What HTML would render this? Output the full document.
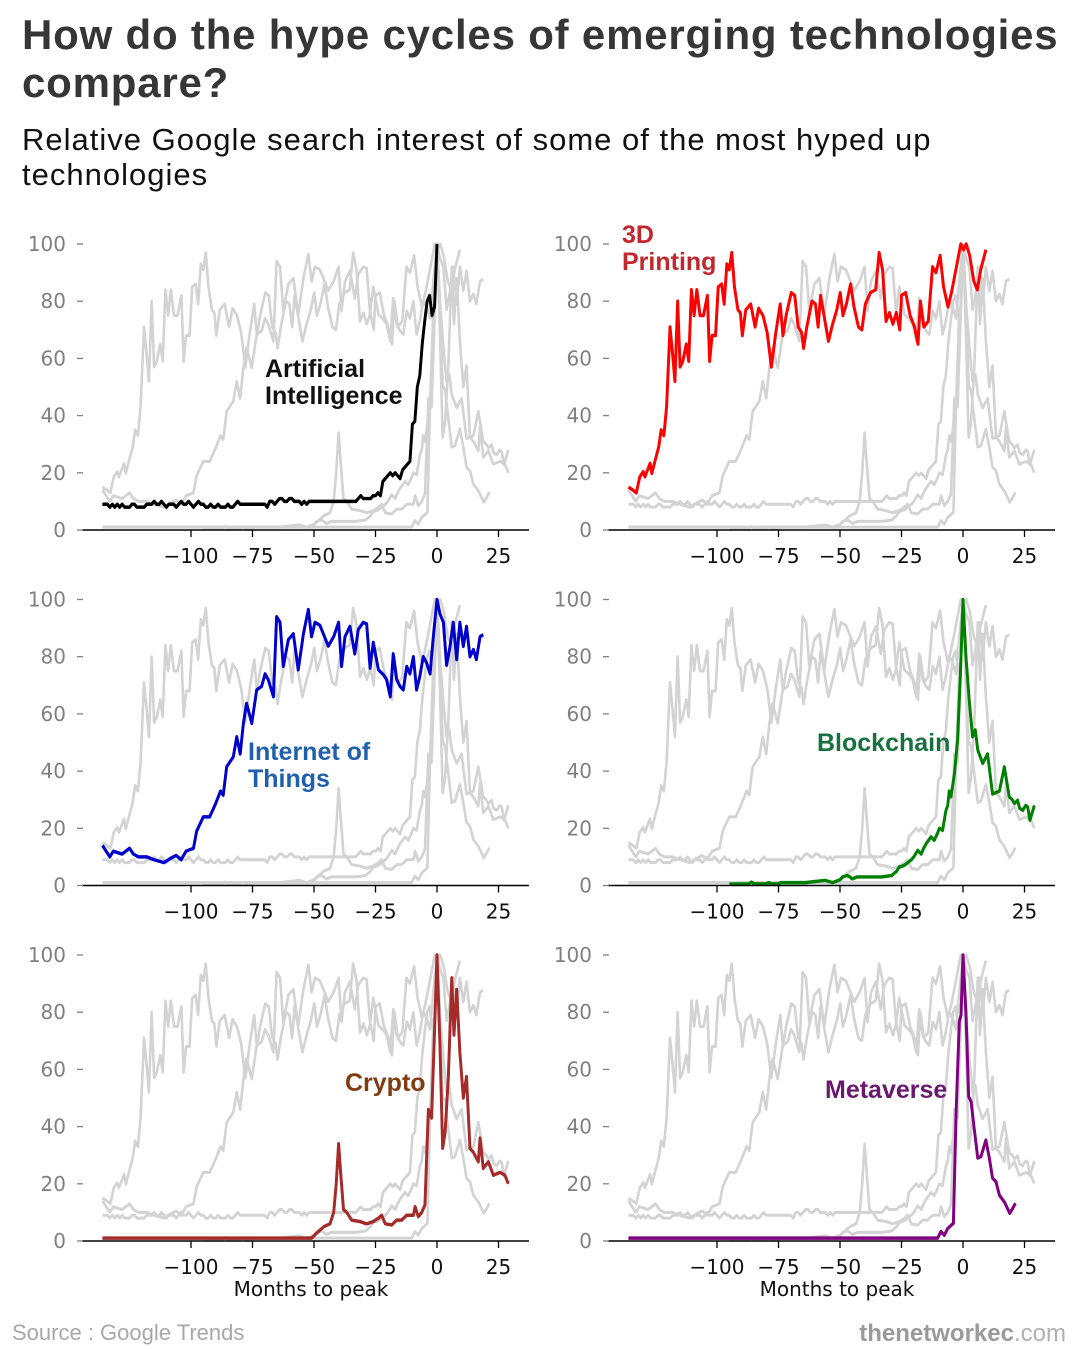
<!DOCTYPE html>
<html>
<head>
<meta charset="utf-8">
<style>
  html, body { margin:0; padding:0; background:#fff; }
  svg { display:block; }
  .title { font-family:"Liberation Sans", sans-serif; font-weight:bold; font-size:42px; fill:#363636; letter-spacing:0.8px; }
  .sub { font-family:"Liberation Sans", sans-serif; font-size:31px; fill:#111; letter-spacing:1px; }
  .yl { font-family:"DejaVu Sans", sans-serif; font-size:20px; fill:#808080; text-anchor:end; }
  .xl { font-family:"DejaVu Sans", sans-serif; font-size:20px; fill:#111; text-anchor:middle; }
  .lab { font-family:"Liberation Sans", sans-serif; font-weight:bold; font-size:25px; }
  .sp { stroke:#000; stroke-width:1.5; }
  .xt { stroke:#000; stroke-width:1.3; }
  .yt { stroke:#808080; stroke-width:1.3; }
</style>
</head>
<body>
<svg width="1080" height="1350" viewBox="0 0 1080 1350" xmlns="http://www.w3.org/2000/svg">
<rect width="1080" height="1350" fill="#fff"/>
<defs>
<polyline id="ai" fill="none" stroke-linejoin="round" points="-136,9 -135,9 -134,9 -133,8 -132,9 -131,8 -130,9 -129,8 -128,9 -127,8 -126,8 -125,8 -124,9 -123,9 -122,8 -121,8 -120,8 -119,8 -118,9 -117,9 -116,9 -115,10 -114,9 -113,9 -112,10 -111,9 -110,8 -109,9 -108,9 -107,9 -106,8 -105,9 -104,10 -103,9 -102,9 -101,10 -100,9 -99,8 -98,9 -97,10 -96,9 -95,9 -94,8 -93,8 -92,9 -91,8 -90,8 -89,9 -88,8 -87,8 -86,8 -85,9 -84,8 -83,8 -82,9 -81,10 -80,9 -79,9 -78,9 -77,9 -76,9 -75,9 -74,9 -73,9 -72,9 -71,9 -70,9 -69,8 -68,10 -67,10 -66,9 -65,10 -64,11 -63,11 -62,10 -61,10 -60,11 -59,11 -58,10 -57,10 -56,10 -55,9 -54,10 -53,9 -52,10 -51,10 -50,10 -33,10 -32,11 -31,12 -30,11 -29,11 -28,11 -27,11 -26,12 -25,12 -24,13 -23,12 -22,17 -21,18 -20,19 -19,20 -18,19 -17,20 -16,19 -15,18 -14,21 -13,22 -12,23 -11,24 -10,37 -9,38 -8,50 -7,54 -6,65 -5,73 -4,80 -3,82 -2,75 -1,78 0,100"/>
<polyline id="dp" fill="none" stroke-linejoin="round" points="-136,15 -134.2,14 -132.8,13 -131.4,18.6 -130,20.4 -129.3,18.6 -127.2,23.3 -126.5,19.8 -125.1,24.5 -123.7,29 -122.7,35 -121.6,33 -120.5,43 -119.1,71 -118.1,62 -117.1,52 -116,80 -115,57 -113.9,59 -112.5,65 -111.5,59 -110.4,84 -109.3,75 -108.2,84 -106.9,75 -105.5,75 -103.9,82 -103,59 -102,68 -100.6,68 -99.5,85 -98.1,86 -97.1,79 -96,93 -95,91 -94,97 -92.9,85 -91.5,77 -90.5,76 -89.7,68 -88.3,77 -86.3,79 -84.5,71 -83.1,77.5 -81.3,75 -79.6,69 -77.9,57 -76.1,69 -74.3,79 -73.2,68 -71.9,75 -69.8,83 -68.4,82 -67,71 -65.6,69 -64.8,63.5 -63.5,71 -61.4,80 -60,79 -58.9,71 -57.9,82 -56.5,75 -54.7,66 -53,72 -51.3,77 -49.9,83 -48.8,75 -47.4,79 -45.7,86 -44.3,78 -42.5,71 -41.1,70 -39.7,79 -37.6,83 -35.5,84 -34.1,97 -32.7,91 -31.3,73 -29.9,76 -28.5,72 -27.1,76 -25.7,70 -25,82 -23.3,83 -21.5,75 -19.7,71 -18.3,65 -17.3,80 -15.9,71 -14.1,73 -12.4,92 -11,90 -9.3,96 -7.9,85 -6.1,78 -4.7,83 -2.9,91 -0.9,100 0.2,98 1.3,100 2.7,96 4.4,87 5.8,84 7.2,91 9.3,98"/>
<polyline id="iot" fill="none" stroke-linejoin="round" points="-136,14 -133,10 -131.6,12 -128,11 -125,13 -123.4,11 -121.4,10 -118,10 -115,9 -111,8 -108.5,9.4 -106,10.5 -104,9 -102,12 -99,13 -97.7,19 -95,24 -92.4,24 -90,28.6 -88,33 -86.9,31.6 -85.5,41.5 -82.8,45 -81.4,52 -80,46 -78.7,56.7 -77.4,63.7 -75.3,56.7 -73.3,68.4 -71.3,69.6 -69.9,74 -68.6,72 -66.5,66 -65.2,94 -63.8,92 -62.5,76.6 -60.4,86 -58.4,88 -56.4,75.4 -54.3,88 -52.3,96.5 -51,87 -49.6,92 -47.6,91 -46.2,88 -44.2,83.7 -42,87 -40,92 -38.8,76.6 -37.4,87 -35.4,90.6 -33.4,81 -32,89.5 -30,92 -28.6,91.5 -27.2,76 -25.9,85 -23.8,75.4 -21.8,73.7 -20.5,72 -19,66 -17.8,81 -16.4,72 -15,69.6 -13.7,68.4 -12.3,76.6 -11,74 -9.6,80 -8.3,68.4 -7,73 -5.6,80 -4.2,77.8 -2.8,74 -1.5,87 0,100 1.2,95 2.6,92 3.9,77 5.3,83.6 6.6,92 8,79 9.3,92 10.7,83.6 12,90.6 13.4,80 14.8,82.5 16,79 17.5,87 18.8,87.7"/>
<polyline id="bc" fill="none" stroke-linejoin="round" points="-95,0.5 -87,0.6 -86,1.2 -85,0.6 -80,0.6 -79,1 -78,0.6 -75,0.6 -74,1 -72,1 -64,1 -56,1.8 -53,1 -50,2 -49,3 -47,3.5 -46,3 -45,2.3 -43,3 -41,3 -37,3 -33,3 -29,3.5 -27,5 -26,6.4 -24,7 -23,7.6 -21,9 -20,10 -18.4,12.3 -17,11 -16,13 -15,14.6 -13,17 -11.7,15.8 -10.5,18 -9.6,20 -8.3,19.3 -7,26 -6.2,28 -5.6,33 -4.9,31 -3.5,39 -2.2,51 -1,75 0,100 1.2,80 2.6,64 3.9,52 5,54.4 6,47.4 8,42.7 10,46 12,32 14.8,33 16.8,41.5 18.8,31 20,30 20.9,28.7 22.2,29.8 23,27 24.3,26.3 25.5,28 26.3,27.5 27.2,22.8 29,28"/>
<polyline id="cr" fill="none" stroke-linejoin="round" points="-136,1 -51,1 -49,2.7 -46,5 -43.5,6 -42,10 -41,19.6 -40,34 -39,22 -38,11 -36.7,10 -34.7,7.3 -31.3,6.8 -28.6,6 -25.9,6.8 -23.8,8 -22.5,9 -21,6 -18.4,5.6 -16.4,7.3 -14.4,7.3 -12.3,9 -9.6,9 -8.9,12 -7.6,8.5 -6.2,10 -4.9,12.6 -3.5,46 -2.2,43 -1.1,71 0,100 1.2,68.5 2.3,32.4 3.3,38 4.6,57 6,92 6.9,72 8,88 9.3,66 10.7,50 12,57.5 13.4,32.4 14.8,31 16.8,27.7 17.5,36 18.8,25.4 20.9,27.7 22.9,23 25.6,24 27.6,23 29,20"/>
<polyline id="mv" fill="none" stroke-linejoin="round" points="-136,1 -10.3,1 -9,3.3 -7.6,2 -6.2,4.4 -3.9,6.2 -2.8,45 -1.5,76.7 -0.8,79 0,100 1.2,80 2.3,50.5 3.3,48.7 4.6,39 6,29 7.3,29.5 9.3,35.3 10.7,29 12,22 13.4,20.7 14.8,16 16.8,13.7 19,9.7 20.2,11.4 21.3,13.2"/>
</defs>

<!-- Title -->
<text class="title" x="22" y="49">How do the hype cycles of emerging technologies</text>
<text class="title" x="22" y="97">compare?</text>
<text class="sub" x="22" y="150">Relative Google search interest of some of the most hyped up</text>
<text class="sub" x="22" y="185">technologies</text>

<!-- Panel 1: AI -->
<g transform="translate(437,530) scale(2.46,-2.86)">
  <use href="#dp" stroke="#d3d3d3" stroke-width="1.05"/>
  <use href="#iot" stroke="#d3d3d3" stroke-width="1.05"/>
  <use href="#bc" stroke="#d3d3d3" stroke-width="1.05"/>
  <use href="#cr" stroke="#d3d3d3" stroke-width="1.05"/>
  <use href="#mv" stroke="#d3d3d3" stroke-width="1.05"/>
  <use href="#ai" stroke="#d3d3d3" stroke-width="1.05"/>
  <use href="#ai" stroke="#000000" stroke-width="1.2"/>
</g>
<g transform="translate(437,530)">
  <line class="sp" x1="-355" y1="0" x2="92" y2="0"/>
  <line class="xt" x1="-246" y1="0" x2="-246" y2="7"/><line class="xt" x1="-184.5" y1="0" x2="-184.5" y2="7"/><line class="xt" x1="-123" y1="0" x2="-123" y2="7"/><line class="xt" x1="-61.5" y1="0" x2="-61.5" y2="7"/><line class="xt" x1="0" y1="0" x2="0" y2="7"/><line class="xt" x1="61.5" y1="0" x2="61.5" y2="7"/>
  <text class="xl" x="-246" y="33">−100</text><text class="xl" x="-184.5" y="33">−75</text><text class="xl" x="-123" y="33">−50</text><text class="xl" x="-61.5" y="33">−25</text><text class="xl" x="0" y="33">0</text><text class="xl" x="61.5" y="33">25</text>
  <line class="yt" x1="-360" y1="0" x2="-354" y2="0"/><line class="yt" x1="-360" y1="-57.2" x2="-354" y2="-57.2"/><line class="yt" x1="-360" y1="-114.4" x2="-354" y2="-114.4"/><line class="yt" x1="-360" y1="-171.6" x2="-354" y2="-171.6"/><line class="yt" x1="-360" y1="-228.8" x2="-354" y2="-228.8"/><line class="yt" x1="-360" y1="-286" x2="-354" y2="-286"/>
  <text class="yl" x="-371" y="7">0</text><text class="yl" x="-371" y="-50.2">20</text><text class="yl" x="-371" y="-107.4">40</text><text class="yl" x="-371" y="-164.6">60</text><text class="yl" x="-371" y="-221.8">80</text><text class="yl" x="-371" y="-279">100</text>
</g>
<text class="lab" x="265" y="377" fill="#111">Artificial</text>
<text class="lab" x="265" y="404" fill="#111">Intelligence</text>

<!-- Panel 2: 3D Printing -->
<g transform="translate(963,530) scale(2.46,-2.86)">
  <use href="#ai" stroke="#d3d3d3" stroke-width="1.05"/>
  <use href="#iot" stroke="#d3d3d3" stroke-width="1.05"/>
  <use href="#bc" stroke="#d3d3d3" stroke-width="1.05"/>
  <use href="#cr" stroke="#d3d3d3" stroke-width="1.05"/>
  <use href="#mv" stroke="#d3d3d3" stroke-width="1.05"/>
  <use href="#dp" stroke="#d3d3d3" stroke-width="1.05"/>
  <use href="#dp" stroke="#ff0000" stroke-width="1.2"/>
</g>
<g transform="translate(963,530)">
  <line class="sp" x1="-355" y1="0" x2="92" y2="0"/>
  <line class="xt" x1="-246" y1="0" x2="-246" y2="7"/><line class="xt" x1="-184.5" y1="0" x2="-184.5" y2="7"/><line class="xt" x1="-123" y1="0" x2="-123" y2="7"/><line class="xt" x1="-61.5" y1="0" x2="-61.5" y2="7"/><line class="xt" x1="0" y1="0" x2="0" y2="7"/><line class="xt" x1="61.5" y1="0" x2="61.5" y2="7"/>
  <text class="xl" x="-246" y="33">−100</text><text class="xl" x="-184.5" y="33">−75</text><text class="xl" x="-123" y="33">−50</text><text class="xl" x="-61.5" y="33">−25</text><text class="xl" x="0" y="33">0</text><text class="xl" x="61.5" y="33">25</text>
  <line class="yt" x1="-360" y1="0" x2="-354" y2="0"/><line class="yt" x1="-360" y1="-57.2" x2="-354" y2="-57.2"/><line class="yt" x1="-360" y1="-114.4" x2="-354" y2="-114.4"/><line class="yt" x1="-360" y1="-171.6" x2="-354" y2="-171.6"/><line class="yt" x1="-360" y1="-228.8" x2="-354" y2="-228.8"/><line class="yt" x1="-360" y1="-286" x2="-354" y2="-286"/>
  <text class="yl" x="-371" y="7">0</text><text class="yl" x="-371" y="-50.2">20</text><text class="yl" x="-371" y="-107.4">40</text><text class="yl" x="-371" y="-164.6">60</text><text class="yl" x="-371" y="-221.8">80</text><text class="yl" x="-371" y="-279">100</text>
</g>
<text class="lab" x="622" y="243" fill="#c0282d">3D</text>
<text class="lab" x="622" y="270" fill="#c0282d">Printing</text>

<!-- Panel 3: IoT -->
<g transform="translate(437,885.5) scale(2.46,-2.86)">
  <use href="#ai" stroke="#d3d3d3" stroke-width="1.05"/>
  <use href="#dp" stroke="#d3d3d3" stroke-width="1.05"/>
  <use href="#bc" stroke="#d3d3d3" stroke-width="1.05"/>
  <use href="#cr" stroke="#d3d3d3" stroke-width="1.05"/>
  <use href="#mv" stroke="#d3d3d3" stroke-width="1.05"/>
  <use href="#iot" stroke="#d3d3d3" stroke-width="1.05"/>
  <use href="#iot" stroke="#0000cd" stroke-width="1.2"/>
</g>
<g transform="translate(437,885.5)">
  <line class="sp" x1="-355" y1="0" x2="92" y2="0"/>
  <line class="xt" x1="-246" y1="0" x2="-246" y2="7"/><line class="xt" x1="-184.5" y1="0" x2="-184.5" y2="7"/><line class="xt" x1="-123" y1="0" x2="-123" y2="7"/><line class="xt" x1="-61.5" y1="0" x2="-61.5" y2="7"/><line class="xt" x1="0" y1="0" x2="0" y2="7"/><line class="xt" x1="61.5" y1="0" x2="61.5" y2="7"/>
  <text class="xl" x="-246" y="33">−100</text><text class="xl" x="-184.5" y="33">−75</text><text class="xl" x="-123" y="33">−50</text><text class="xl" x="-61.5" y="33">−25</text><text class="xl" x="0" y="33">0</text><text class="xl" x="61.5" y="33">25</text>
  <line class="yt" x1="-360" y1="0" x2="-354" y2="0"/><line class="yt" x1="-360" y1="-57.2" x2="-354" y2="-57.2"/><line class="yt" x1="-360" y1="-114.4" x2="-354" y2="-114.4"/><line class="yt" x1="-360" y1="-171.6" x2="-354" y2="-171.6"/><line class="yt" x1="-360" y1="-228.8" x2="-354" y2="-228.8"/><line class="yt" x1="-360" y1="-286" x2="-354" y2="-286"/>
  <text class="yl" x="-371" y="7">0</text><text class="yl" x="-371" y="-50.2">20</text><text class="yl" x="-371" y="-107.4">40</text><text class="yl" x="-371" y="-164.6">60</text><text class="yl" x="-371" y="-221.8">80</text><text class="yl" x="-371" y="-279">100</text>
</g>
<text class="lab" x="248" y="760" fill="#1f5fad">Internet of</text>
<text class="lab" x="248" y="787" fill="#1f5fad">Things</text>

<!-- Panel 4: Blockchain -->
<g transform="translate(963,885.5) scale(2.46,-2.86)">
  <use href="#ai" stroke="#d3d3d3" stroke-width="1.05"/>
  <use href="#dp" stroke="#d3d3d3" stroke-width="1.05"/>
  <use href="#iot" stroke="#d3d3d3" stroke-width="1.05"/>
  <use href="#cr" stroke="#d3d3d3" stroke-width="1.05"/>
  <use href="#mv" stroke="#d3d3d3" stroke-width="1.05"/>
  <use href="#bc" stroke="#d3d3d3" stroke-width="1.05"/>
  <use href="#bc" stroke="#008000" stroke-width="1.2"/>
</g>
<g transform="translate(963,885.5)">
  <line class="sp" x1="-355" y1="0" x2="92" y2="0"/>
  <line class="xt" x1="-246" y1="0" x2="-246" y2="7"/><line class="xt" x1="-184.5" y1="0" x2="-184.5" y2="7"/><line class="xt" x1="-123" y1="0" x2="-123" y2="7"/><line class="xt" x1="-61.5" y1="0" x2="-61.5" y2="7"/><line class="xt" x1="0" y1="0" x2="0" y2="7"/><line class="xt" x1="61.5" y1="0" x2="61.5" y2="7"/>
  <text class="xl" x="-246" y="33">−100</text><text class="xl" x="-184.5" y="33">−75</text><text class="xl" x="-123" y="33">−50</text><text class="xl" x="-61.5" y="33">−25</text><text class="xl" x="0" y="33">0</text><text class="xl" x="61.5" y="33">25</text>
  <line class="yt" x1="-360" y1="0" x2="-354" y2="0"/><line class="yt" x1="-360" y1="-57.2" x2="-354" y2="-57.2"/><line class="yt" x1="-360" y1="-114.4" x2="-354" y2="-114.4"/><line class="yt" x1="-360" y1="-171.6" x2="-354" y2="-171.6"/><line class="yt" x1="-360" y1="-228.8" x2="-354" y2="-228.8"/><line class="yt" x1="-360" y1="-286" x2="-354" y2="-286"/>
  <text class="yl" x="-371" y="7">0</text><text class="yl" x="-371" y="-50.2">20</text><text class="yl" x="-371" y="-107.4">40</text><text class="yl" x="-371" y="-164.6">60</text><text class="yl" x="-371" y="-221.8">80</text><text class="yl" x="-371" y="-279">100</text>
</g>
<text class="lab" x="817" y="751" fill="#17703f">Blockchain</text>

<!-- Panel 5: Crypto -->
<g transform="translate(437,1241) scale(2.46,-2.86)">
  <use href="#ai" stroke="#d3d3d3" stroke-width="1.05"/>
  <use href="#dp" stroke="#d3d3d3" stroke-width="1.05"/>
  <use href="#iot" stroke="#d3d3d3" stroke-width="1.05"/>
  <use href="#bc" stroke="#d3d3d3" stroke-width="1.05"/>
  <use href="#mv" stroke="#d3d3d3" stroke-width="1.05"/>
  <use href="#cr" stroke="#d3d3d3" stroke-width="1.05"/>
  <use href="#cr" stroke="#a52a2a" stroke-width="1.2"/>
</g>
<g transform="translate(437,1241)">
  <line class="sp" x1="-355" y1="0" x2="92" y2="0"/>
  <line class="xt" x1="-246" y1="0" x2="-246" y2="7"/><line class="xt" x1="-184.5" y1="0" x2="-184.5" y2="7"/><line class="xt" x1="-123" y1="0" x2="-123" y2="7"/><line class="xt" x1="-61.5" y1="0" x2="-61.5" y2="7"/><line class="xt" x1="0" y1="0" x2="0" y2="7"/><line class="xt" x1="61.5" y1="0" x2="61.5" y2="7"/>
  <text class="xl" x="-246" y="33">−100</text><text class="xl" x="-184.5" y="33">−75</text><text class="xl" x="-123" y="33">−50</text><text class="xl" x="-61.5" y="33">−25</text><text class="xl" x="0" y="33">0</text><text class="xl" x="61.5" y="33">25</text>
  <line class="yt" x1="-360" y1="0" x2="-354" y2="0"/><line class="yt" x1="-360" y1="-57.2" x2="-354" y2="-57.2"/><line class="yt" x1="-360" y1="-114.4" x2="-354" y2="-114.4"/><line class="yt" x1="-360" y1="-171.6" x2="-354" y2="-171.6"/><line class="yt" x1="-360" y1="-228.8" x2="-354" y2="-228.8"/><line class="yt" x1="-360" y1="-286" x2="-354" y2="-286"/>
  <text class="yl" x="-371" y="7">0</text><text class="yl" x="-371" y="-50.2">20</text><text class="yl" x="-371" y="-107.4">40</text><text class="yl" x="-371" y="-164.6">60</text><text class="yl" x="-371" y="-221.8">80</text><text class="yl" x="-371" y="-279">100</text>
  <text class="xl" x="-126" y="55">Months to peak</text>
</g>
<text class="lab" x="345" y="1091" fill="#7f3b12">Crypto</text>

<!-- Panel 6: Metaverse -->
<g transform="translate(963,1241) scale(2.46,-2.86)">
  <use href="#ai" stroke="#d3d3d3" stroke-width="1.05"/>
  <use href="#dp" stroke="#d3d3d3" stroke-width="1.05"/>
  <use href="#iot" stroke="#d3d3d3" stroke-width="1.05"/>
  <use href="#bc" stroke="#d3d3d3" stroke-width="1.05"/>
  <use href="#cr" stroke="#d3d3d3" stroke-width="1.05"/>
  <use href="#mv" stroke="#d3d3d3" stroke-width="1.05"/>
  <use href="#mv" stroke="#800080" stroke-width="1.2"/>
</g>
<g transform="translate(963,1241)">
  <line class="sp" x1="-355" y1="0" x2="92" y2="0"/>
  <line class="xt" x1="-246" y1="0" x2="-246" y2="7"/><line class="xt" x1="-184.5" y1="0" x2="-184.5" y2="7"/><line class="xt" x1="-123" y1="0" x2="-123" y2="7"/><line class="xt" x1="-61.5" y1="0" x2="-61.5" y2="7"/><line class="xt" x1="0" y1="0" x2="0" y2="7"/><line class="xt" x1="61.5" y1="0" x2="61.5" y2="7"/>
  <text class="xl" x="-246" y="33">−100</text><text class="xl" x="-184.5" y="33">−75</text><text class="xl" x="-123" y="33">−50</text><text class="xl" x="-61.5" y="33">−25</text><text class="xl" x="0" y="33">0</text><text class="xl" x="61.5" y="33">25</text>
  <line class="yt" x1="-360" y1="0" x2="-354" y2="0"/><line class="yt" x1="-360" y1="-57.2" x2="-354" y2="-57.2"/><line class="yt" x1="-360" y1="-114.4" x2="-354" y2="-114.4"/><line class="yt" x1="-360" y1="-171.6" x2="-354" y2="-171.6"/><line class="yt" x1="-360" y1="-228.8" x2="-354" y2="-228.8"/><line class="yt" x1="-360" y1="-286" x2="-354" y2="-286"/>
  <text class="yl" x="-371" y="7">0</text><text class="yl" x="-371" y="-50.2">20</text><text class="yl" x="-371" y="-107.4">40</text><text class="yl" x="-371" y="-164.6">60</text><text class="yl" x="-371" y="-221.8">80</text><text class="yl" x="-371" y="-279">100</text>
  <text class="xl" x="-126" y="55">Months to peak</text>
</g>
<text class="lab" x="825" y="1098" fill="#6a1a6e">Metaverse</text>

<!-- Footer -->
<text x="12" y="1340" font-family="Liberation Sans, sans-serif" font-size="22" fill="#a8a8a8">Source : Google Trends</text>
<text x="1066" y="1341" text-anchor="end" font-family="Liberation Sans, sans-serif" font-size="24" fill="#9a9a9a"><tspan font-weight="bold">thenetworkec</tspan><tspan fill="#b0b0b0">.com</tspan></text>
</svg>
</body>
</html>
